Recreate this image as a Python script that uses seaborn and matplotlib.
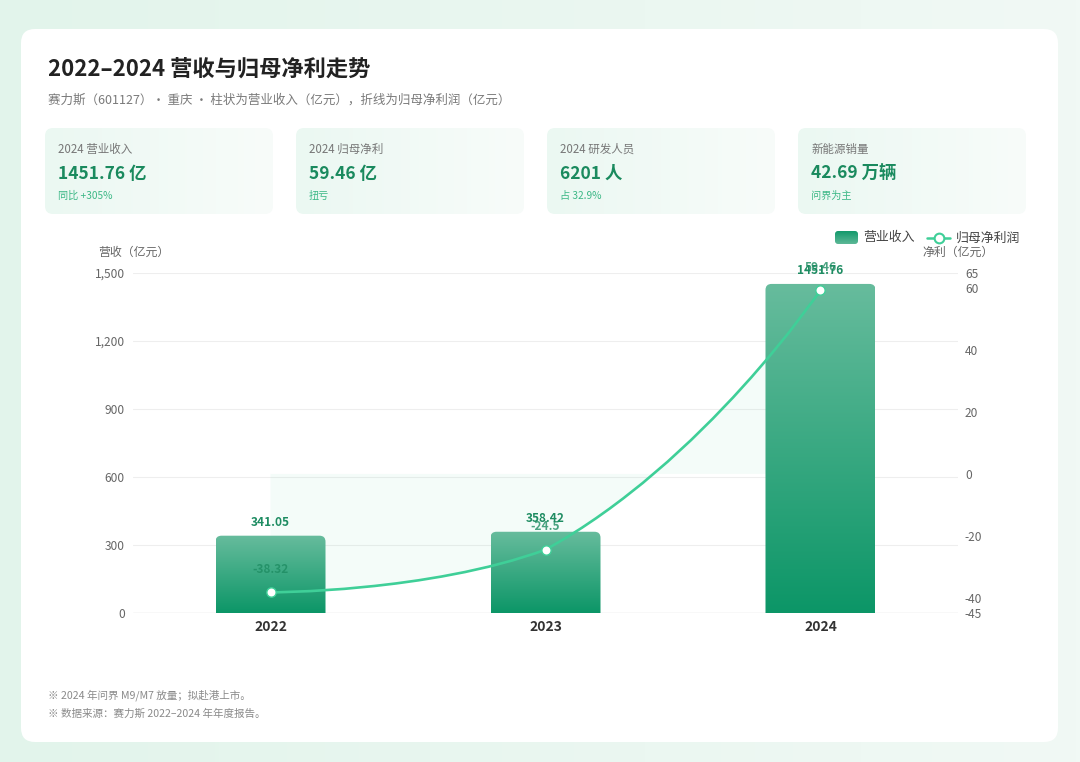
import numpy as np
import pandas as pd
import matplotlib
matplotlib.use('Agg')
import matplotlib.pyplot as plt
import seaborn as sns
from matplotlib.patches import FancyBboxPatch, PathPatch
from matplotlib.path import Path
from matplotlib.colors import LinearSegmentedColormap
from matplotlib.lines import Line2D

# data
years = ['2022', '2023', '2024']
revenue = [341.05, 358.42, 1451.76]
net_profit = [-38.32, -24.5, 59.46]

card_titles = ['2024 营业收入', '2024 归母净利', '2024 研发人员', '新能源销量']
card_values = ['1451.76 亿', '59.46 亿', '6201 人', '42.69 万辆']
card_notes = ['同比 +305%', '扭亏', '占 32.9%', '问界为主']

left_ticks = [0, 300, 600, 900, 1200, 1500]
right_ticks = [-45, -40, -20, 0, 20, 40, 60, 65]

notes = ['※ 2024 年问界 M9/M7 放量；拟赴港上市。',
         '※ 数据来源：赛力斯 2022–2024 年年度报告。']

sns.set_theme(style='white')
plt.rcParams['font.family'] = ['Noto Sans CJK SC', 'DejaVu Sans']
plt.rcParams['axes.unicode_minus'] = False

W, H = 1080, 762
fig = plt.figure(figsize=(W / 100, H / 100), dpi=100)
fig.patch.set_facecolor('#e8f6ef')

# background axes in pixel coordinates
bg = fig.add_axes([0, 0, 1, 1], zorder=0)
bg.set_xlim(0, W)
bg.set_ylim(H, 0)
bg.axis('off')

# soft background gradient
grad = np.linspace(0, 1, 256).reshape(1, -1)
bg_cmap = LinearSegmentedColormap.from_list('bgc', ['#e2f4eb', '#f1f9f5'])
bg.imshow(grad, extent=[0, W, H, 0], cmap=bg_cmap, aspect='auto', zorder=0)

card = FancyBboxPatch((21, 29), 1037, 713, boxstyle='round,pad=0,rounding_size=14',
                      facecolor='white', edgecolor='none', zorder=1)
bg.add_patch(card)

bg.text(48, 70, '2022–2024 营收与归母净利走势', fontsize=16, fontweight='bold',
        color='#222222', va='center', ha='left', zorder=3)
bg.text(48, 100, '赛力斯（601127）· 重庆 · 柱状为营业收入（亿元），折线为归母净利润（亿元）',
        fontsize=9.0, color='#7a7a7a', va='center', ha='left', zorder=3)

# metric cards
card_cmap = LinearSegmentedColormap.from_list('cardc', ['#ebf8f2', '#f8fcfa'])
card_x = [45, 296, 547, 798]
for i, cx in enumerate(card_x):
    box = FancyBboxPatch((cx, 128), 228, 86, boxstyle='round,pad=0,rounding_size=8',
                         facecolor='none', edgecolor='none', zorder=2)
    bg.add_patch(box)
    im = bg.imshow(grad, extent=[cx, cx + 228, 214, 128], cmap=card_cmap,
                   aspect='auto', zorder=2)
    im.set_clip_path(box)
    bg.text(cx + 13, 149, card_titles[i], fontsize=8.3, color='#777777',
            va='center', ha='left', zorder=3)
    bg.text(cx + 13, 174, card_values[i], fontsize=12.5, fontweight='bold',
            color='#1a8a5e', va='center', ha='left', zorder=3)
    bg.text(cx + 13, 196, card_notes[i], fontsize=7.3, color='#3cb886',
            va='center', ha='left', zorder=3)

# legend
leg_cmap = LinearSegmentedColormap.from_list('legc', ['#5db897', '#13996b'])
leg_box = FancyBboxPatch((835, 231), 23, 13, boxstyle='round,pad=0,rounding_size=3',
                         facecolor='none', edgecolor='none', zorder=2)
bg.add_patch(leg_box)
im = bg.imshow(grad.T[::-1], extent=[835, 858, 244, 231], cmap=leg_cmap,
               aspect='auto', zorder=2)
im.set_clip_path(leg_box)
bg.text(863, 238, '营业收入', fontsize=9.3, color='#444444', va='center', ha='left', zorder=3)
bg.add_line(Line2D([927, 950], [238, 238], color='#3fcf98', lw=1.8, zorder=3))
bg.plot([938.5], [238], marker='o', markersize=7, markerfacecolor='white',
        markeredgecolor='#3fcf98', markeredgewidth=1.5, zorder=4)
bg.text(956, 238, '归母净利润', fontsize=9.3, color='#444444', va='center', ha='left', zorder=3)

bg.text(98, 252, '营收（亿元）', fontsize=8.6, color='#666666', va='center', ha='left', zorder=3)
bg.text(922, 252, '净利（亿元）', fontsize=8.6, color='#666666', va='center', ha='left', zorder=3)

for j, t in enumerate(notes):
    bg.text(48, 695 + j * 19, t, fontsize=7.6, color='#8a8a8a', va='center', ha='left', zorder=3)

# chart axes
left, right, top, bottom = 133, 958, 273, 613
ax = fig.add_axes([left / W, 1 - bottom / H, (right - left) / W, (bottom - top) / H], zorder=2)
ax.patch.set_alpha(0)

df = pd.DataFrame({'year': years, 'revenue': revenue, 'profit': net_profit})
sns.barplot(data=df, x='year', y='revenue', ax=ax, width=0.4, color='#2aa57a')

ax.set_xlim(-0.5, 2.5)
ax.set_ylim(0, 1500)
ax2 = ax.twinx()
ax2.set_ylim(-45, 65)
ax2.set_zorder(3)

# gradient bars with rounded tops
bar_cmap = LinearSegmentedColormap.from_list('barc', ['#0c9667', '#67bc9d'])
px_x = 275.0
px_y = 1500 / 340.0
rx = 6 / px_x
ry = 6 * px_y
for p in list(ax.patches):
    x0, w, h = p.get_x(), p.get_width(), p.get_height()
    p.set_visible(False)
    clip = FancyBboxPatch((x0, -ry), w, h + ry,
                          boxstyle=f'round,pad=0,rounding_size={rx}',
                          mutation_aspect=ry / rx, transform=ax.transData,
                          facecolor='none', edgecolor='none')
    ax.add_patch(clip)
    im = ax.imshow(grad.T, extent=[x0, x0 + w, 0, h], origin='lower',
                   cmap=bar_cmap, aspect='auto', zorder=2)
    im.set_clip_path(clip)
    ax.text(x0 + w / 2, h + 13 * px_y, f'{h:.2f}', ha='center', va='center',
            fontsize=8.6, fontweight='bold', color='#1e8c62', zorder=4)

ax.set_xlim(-0.5, 2.5)
ax.set_ylim(0, 1500)

# smooth line (echarts-like bezier through the points)
xs = np.arange(len(years))
pts = ax2.transData.transform(np.column_stack([xs, net_profit]))
ymin_px, ymax_px = pts[:, 1].min(), pts[:, 1].max()
smooth = 0.5
verts = [pts[0]]
codes = [Path.MOVETO]
n = len(pts)
ctrl_in = [None] * n
ctrl_out = [None] * n
for i in range(n):
    if i == 0 or i == n - 1:
        ctrl_in[i] = pts[i]
        ctrl_out[i] = pts[i]
        continue
    v = pts[i + 1] - pts[i - 1]
    d0 = np.hypot(*(pts[i] - pts[i - 1]))
    d1 = np.hypot(*(pts[i + 1] - pts[i]))
    cin = pts[i] - v * smooth * d0 / (d0 + d1)
    cout = pts[i] + v * smooth * d1 / (d0 + d1)
    cin[1] = np.clip(cin[1], ymin_px, ymax_px)
    cout[1] = np.clip(cout[1], ymin_px, ymax_px)
    ctrl_in[i] = cin
    ctrl_out[i] = cout
for i in range(n - 1):
    verts += [ctrl_out[i], ctrl_in[i + 1], pts[i + 1]]
    codes += [Path.CURVE4] * 3
inv = ax2.transData.inverted()
verts_d = inv.transform(np.array(verts))
curve = Path(verts_d, codes)

# area between curve and zero
area_verts = list(verts_d) + [[xs[-1], 0], [xs[0], 0], verts_d[0]]
area_codes = codes + [Path.LINETO, Path.LINETO, Path.CLOSEPOLY]
area = PathPatch(Path(area_verts, area_codes), facecolor='#3fcf98', alpha=0.055,
                 edgecolor='none', transform=ax2.transData, zorder=1)
ax.add_patch(area)

ax2.add_patch(PathPatch(curve, facecolor='none', edgecolor='#3fcf98', lw=1.9,
                        capstyle='round', zorder=3))
sns.scatterplot(x=xs, y=net_profit, ax=ax2, s=45, color='white',
                edgecolor='#3fcf98', linewidth=1.0, zorder=4, legend=False)
for xi, v in zip(xs, net_profit):
    ax2.text(xi, v + 23 / 340 * 110, f'{v:g}', ha='center', va='center',
             fontsize=8.6, fontweight='bold', color='#1e8c62', alpha=0.8, zorder=5)

ax2.set_xlim(-0.5, 2.5)
ax2.set_ylim(-45, 65)

# axes styling
for a in (ax, ax2):
    for s in a.spines.values():
        s.set_visible(False)
    a.tick_params(length=0)
    a.set_xlabel('')
    a.set_ylabel('')

ax.set_yticks(left_ticks)
ax.set_yticklabels([f'{t:,}' for t in left_ticks])
ax.tick_params(axis='y', labelsize=8.6, labelcolor='#666666', pad=6)
ax.tick_params(axis='x', labelsize=10, labelcolor='#333333', pad=5)
for lbl in ax.get_xticklabels():
    lbl.set_fontweight('bold')
ax.yaxis.grid(True, color='#eeeeee', lw=0.8)
ax.set_axisbelow(True)
ax.axhline(0, color='#e3e3e3', lw=1.0, zorder=1)

ax2.set_yticks(right_ticks)
ax2.set_yticklabels([str(t) for t in right_ticks])
ax2.tick_params(axis='y', labelsize=8.6, labelcolor='#666666', pad=5)
ax2.grid(False)

fig.savefig('out.png', dpi=100)
